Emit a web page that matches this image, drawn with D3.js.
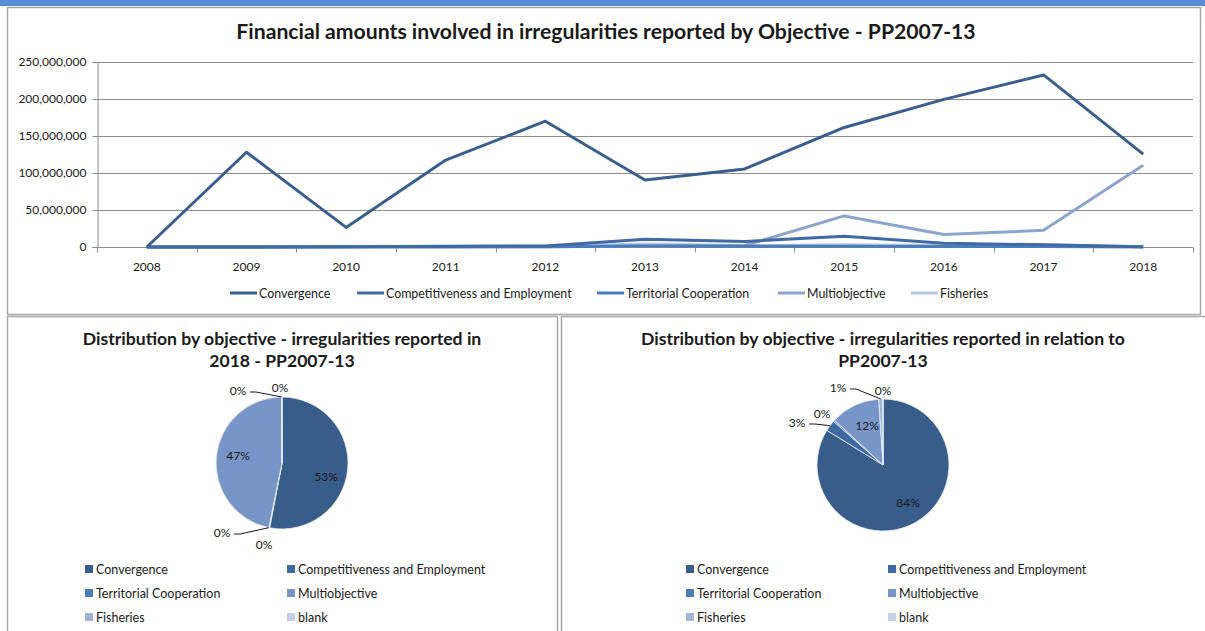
<!DOCTYPE html>
<html>
<head>
<meta charset="utf-8">
<script src="https://cdn.jsdelivr.net/npm/d3@7"></script>
<style>
  html, body { margin: 0; padding: 0; background: #ffffff; }
  svg { display: block; font-family: Lato, "Open Sans", sans-serif; }
</style>
</head>
<body>
<svg id="chart" width="1205" height="631"></svg>
<script>
// ---- data ----
const years = ["2008", "2009", "2010", "2011", "2012", "2013", "2014", "2015", "2016", "2017", "2018"];
const objectives = ["Convergence", "Competitiveness and Employment", "Territorial Cooperation", "Multiobjective", "Fisheries"];
const pieCategories = ["Convergence", "Competitiveness and Employment", "Territorial Cooperation", "Multiobjective", "Fisheries", "blank"];

const convergence     = [0, 128.0e6, 26.5e6, 117.5e6, 170.0e6, 90.5e6, 105.5e6, 161.5e6, 199.5e6, 232.5e6, 125.5e6];
const competitiveness = [0, 0, 0.5e6, 1.0e6, 1.5e6, 10.5e6, 7.5e6, 14.5e6, 5.0e6, 3.0e6, 0.4e6];
const territorial     = [0, 0, 0.2e6, 0.3e6, 0.5e6, 1.5e6, 1.0e6, 1.0e6, 0.8e6, 0.7e6, 0.1e6];
const multiobjective  = [0, 0, 0, 0, 0.3e6, 1.5e6, 2.0e6, 42.0e6, 17.0e6, 22.5e6, 110.5e6];
const fisheries       = [0, 0, 0.5e6, 0.8e6, 1.0e6, 4.0e6, 2.0e6, 3.0e6, 2.0e6, 3.0e6, 0.3e6];
const blank           = [0, 0, 0, 0, 0, 0, 0, 0, 0, 0, 0];

const yTicks = [0, 50e6, 100e6, 150e6, 200e6, 250e6];

const lineTitle = "Financial amounts involved in irregularities reported by Objective - PP2007-13";
const pie1Title = ["Distribution by objective - irregularities reported in", "2018 - PP2007-13"];
const pie2Title = ["Distribution by objective - irregularities reported in relation to", "PP2007-13"];

// ---- styles ----
const lineColors = ["#3b5e8e", "#3f6aa3", "#4a7dbb", "#8da5ce", "#b8c6e1"];
const pieColors  = ["#385d8a", "#3e69a1", "#4a7ebb", "#7795c6", "#a2b4d8", "#c3cfe6"];
const borderColor = "#a6a6a6";
const textColor = "#1a1a1a";

const svg = d3.select("#chart");

// header strip of the sheet above the charts
svg.append("rect").attr("x", 0).attr("y", 0).attr("width", 1205).attr("height", 6).attr("fill", "#558ed5");

// chart panels
function panel(x, y, w, h) {
  svg.append("rect").attr("x", x + 0.5).attr("y", y + 0.5).attr("width", w).attr("height", h)
    .attr("fill", "#fff").attr("stroke", borderColor).attr("stroke-width", 1.5);
}
panel(7, 7, 1193, 307);
panel(7, 316, 550, 330);
panel(561, 316, 660, 330);

// ---- line chart ----
const plot = { left: 97, right: 1193, top: 62, bottom: 247 };
const x = d3.scaleBand().domain(years).range([plot.left, plot.right]);
const y = d3.scaleLinear().domain([0, 250e6]).range([plot.bottom, plot.top]);

svg.append("text").attr("x", 606).attr("y", 39).attr("text-anchor", "middle")
  .attr("font-size", 21.2).attr("font-weight", "bold").attr("fill", textColor).text(lineTitle);

// horizontal gridlines
svg.append("g").selectAll("line").data(yTicks.slice(1)).join("line")
  .attr("x1", plot.left).attr("x2", plot.right)
  .attr("y1", d => Math.round(y(d)) + 0.5).attr("y2", d => Math.round(y(d)) + 0.5)
  .attr("stroke", "#8c8c8c").attr("stroke-width", 1);

// y axis
const yAxis = svg.append("g").attr("transform", `translate(${plot.left + 0.5},0)`)
  .call(d3.axisLeft(y).tickValues(yTicks).tickSize(5).tickPadding(6).tickFormat(d3.format(",")));
yAxis.select(".domain").attr("stroke", "#8c8c8c");
yAxis.selectAll(".tick line").attr("stroke", "#8c8c8c");
yAxis.selectAll("text").attr("font-size", 12).attr("fill", textColor).attr("font-family", "Lato, sans-serif");

// x axis with ticks between categories
const xAxisG = svg.append("g").attr("transform", `translate(0,${Math.round(plot.bottom) + 0.5})`);
xAxisG.append("line").attr("x1", plot.left).attr("x2", plot.right).attr("stroke", "#8c8c8c");
xAxisG.selectAll("line.tk").data(d3.range(years.length + 1)).join("line").attr("class", "tk")
  .attr("x1", i => Math.round(plot.left + i * x.step()) + 0.5).attr("x2", i => Math.round(plot.left + i * x.step()) + 0.5)
  .attr("y1", 0).attr("y2", 5).attr("stroke", "#8c8c8c");
xAxisG.selectAll("text").data(years).join("text")
  .attr("x", d => x(d) + x.bandwidth() / 2).attr("y", 23).attr("text-anchor", "middle")
  .attr("font-size", 12).attr("fill", textColor).text(d => d);

const seriesValues = [convergence, competitiveness, territorial, multiobjective, fisheries];
const line = d3.line().x((d, i) => x(years[i]) + x.bandwidth() / 2).y(d => y(d));
// draw lighter series first so the dark ones sit on top
[4, 3, 2, 1, 0].forEach(k => {
  svg.append("path").datum(seriesValues[k]).attr("d", line)
    .attr("fill", "none").attr("stroke", lineColors[k]).attr("stroke-width", 3)
    .attr("stroke-linejoin", "round");
});

// line legend
const legendItems = [
  { x: 230, label: objectives[0] },
  { x: 357, label: objectives[1] },
  { x: 597, label: objectives[2] },
  { x: 778, label: objectives[3] },
  { x: 911, label: objectives[4] }
];
const lg = svg.append("g").attr("transform", "translate(0,293)");
legendItems.forEach((it, k) => {
  lg.append("line").attr("x1", it.x).attr("x2", it.x + 27).attr("y1", 0).attr("y2", 0)
    .attr("stroke", lineColors[k]).attr("stroke-width", 3);
  lg.append("text").attr("x", it.x + 29).attr("y", 4.5).attr("font-size", 12.4).attr("fill", textColor).text(it.label);
});

// ---- pie charts ----
const pieGen = d3.pie().sort(null).value(d => d.value);
const radius = 66;
const arc = d3.arc().innerRadius(0).outerRadius(radius);

function drawPie(cx, cy, values, titleLines, titleX, labelSpots, legendX) {
  const data = pieCategories.map((c, i) => ({ name: c, value: values[i], idx: i }));
  const total = d3.sum(values);
  const arcs = pieGen(data);

  titleLines.forEach((t, i) => {
    svg.append("text").attr("x", titleX).attr("y", 345 + i * 22).attr("text-anchor", "middle")
      .attr("font-size", 17.6).attr("font-weight", "bold").attr("fill", textColor).text(t);
  });

  const g = svg.append("g").attr("transform", `translate(${cx},${cy})`);
  g.selectAll("path").data(arcs).join("path")
    .attr("d", arc).attr("fill", d => pieColors[d.data.idx])
    .attr("stroke", "#e8edf5").attr("stroke-width", 0.8);

  arcs.forEach((a, i) => {
    const spot = labelSpots[i];
    const pct = Math.round(a.data.value / total * 100) + "%";
    g.append("text").attr("x", spot.dx).attr("y", spot.dy + 4).attr("text-anchor", "middle")
      .attr("font-size", 12).attr("fill", textColor).text(pct);
    if (spot.leader) {
      const mid = (a.startAngle + a.endAngle) / 2;
      const ex = Math.sin(mid) * radius, ey = -Math.cos(mid) * radius;
      const lx = spot.dx + 12;
      g.append("polyline")
        .attr("points", [[lx, spot.dy + 1], [lx + 6, spot.dy + 1], [ex, ey]].map(p => p.join(",")).join(" "))
        .attr("fill", "none").attr("stroke", "#1a1a1a").attr("stroke-width", 1);
    }
  });

  // legend: two columns, three rows
  const lgp = svg.append("g");
  pieCategories.forEach((c, i) => {
    const col = i % 2, row = Math.floor(i / 2);
    const lx = legendX + col * 202, ly = 569 + row * 24;
    lgp.append("rect").attr("x", lx).attr("y", ly - 4).attr("width", 8).attr("height", 8).attr("fill", pieColors[i]);
    lgp.append("text").attr("x", lx + 11).attr("y", ly + 4.5).attr("font-size", 12.5).attr("fill", textColor).text(c);
  });
}

const last = years.length - 1;
const pie2018 = [convergence[last], competitiveness[last], territorial[last], multiobjective[last], fisheries[last], blank[last]];
const pieTotal = [d3.sum(convergence), d3.sum(competitiveness), d3.sum(territorial), d3.sum(multiobjective), d3.sum(fisheries), d3.sum(blank)];

drawPie(282, 463, pie2018, pie1Title, 282, [
  { dx: 44, dy: 14 },
  { dx: -18, dy: 82 },
  { dx: -60, dy: 70, leader: true },
  { dx: -44, dy: -7 },
  { dx: -44, dy: -72, leader: true },
  { dx: -2, dy: -75 }
], 85);

drawPie(883, 465, pieTotal, pie2Title, 883, [
  { dx: 25, dy: 38 },
  { dx: -86, dy: -42, leader: true },
  { dx: -61, dy: -51 },
  { dx: -16, dy: -39 },
  { dx: -45, dy: -77, leader: true },
  { dx: 0, dy: -74 }
], 686);
</script>
</body>
</html>
